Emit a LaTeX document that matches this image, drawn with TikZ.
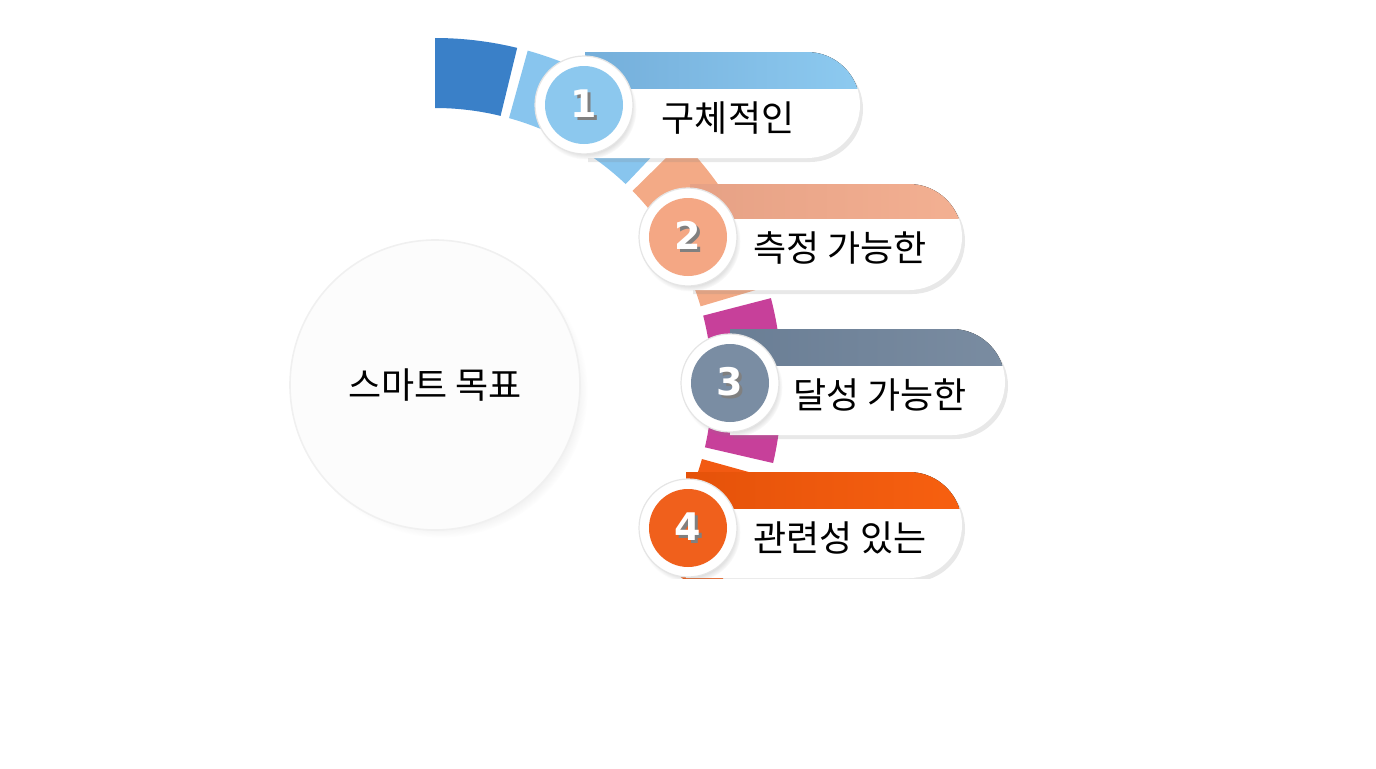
\documentclass[tikz,border=0pt]{standalone}
\usepackage{fontspec}
\setmainfont{Noto Sans CJK KR}
\newfontfamily\numfont{DejaVu Sans}
\usepackage{tikz}
\usetikzlibrary{positioning,shadows}

\definecolor{ringA}{HTML}{3A80C8}
\definecolor{ringB}{HTML}{88C5EE}
\definecolor{ringC}{HTML}{F3AA86}
\definecolor{ringD}{HTML}{C7409A}
\definecolor{ringE}{HTML}{F25A12}
\definecolor{bandAl}{HTML}{74AEDA}
\definecolor{bandAr}{HTML}{8DCAF0}
\definecolor{bandBl}{HTML}{E6A185}
\definecolor{bandBr}{HTML}{F3B092}
\definecolor{bandCl}{HTML}{6A7E95}
\definecolor{bandCr}{HTML}{7A8CA1}
\definecolor{bandDl}{HTML}{E5520A}
\definecolor{bandDr}{HTML}{F76010}
\definecolor{discA}{HTML}{8CC8EE}
\definecolor{discB}{HTML}{F4A784}
\definecolor{discC}{HTML}{7A8DA3}
\definecolor{discD}{HTML}{F0601C}

\newcommand\shnum[1]{\rlap{\hspace{1.4pt}\raisebox{-1.4pt}{\textcolor{black!50}{#1}}}#1}

\tikzset{
  numring/.style={circle, fill=white, draw=black!10, line width=0.6pt, minimum size=49pt, inner sep=0pt,
    circular drop shadow={opacity=.3, shadow xshift=1pt, shadow yshift=-2pt, shadow scale=1.03}},
  numdisc/.style={circle, minimum size=39pt, inner sep=0pt, text=white,
    font=\numfont\bfseries\fontsize{19pt}{19pt}\selectfont},
  itemtext/.style={font=\fontsize{18pt}{21pt}\selectfont, text=black},
}

\begin{document}
\begin{tikzpicture}[x=0.5pt,y=0.5pt]
    \useasboundingbox (0,0) rectangle (1376,768);
    \begin{scope}
    \clip (0,190) rectangle (1376,768);

    % centre circle
    \node[circle, minimum size=145pt, fill=black!1, draw=black!6, line width=0.8pt,
      circular drop shadow={opacity=.22, shadow xshift=3pt, shadow yshift=-3pt, shadow scale=1.01},
      font=\fontsize{18pt}{21pt}\selectfont] (goal) at (435,383) {스마트 목표};

    % ring
    \begin{scope}[shift={(435,383)}]
    \foreach \a/\b/\col in {90/76.3/ringA, 74.5/46.5/ringB, 44.5/16.5/ringC, 14.5/-13/ringD, -15.5/-38/ringE}
        \fill[\col] (\a:347) arc[start angle=\a, end angle=\b, radius=347] -- (\b:277)
            arc[start angle=\b, end angle=\a, radius=277] -- cycle;
    \end{scope}

    % pills
    \foreach \l/\t/\b/\r/\m/\ca/\cb in {585/716/610/860/680/bandAl/bandAr,
        690/584/478/962/550/bandBl/bandBr, 730/439/333/1005/403/bandCl/bandCr,
        686/296/190/962/260/bandDl/bandDr}
    {
        \path[fill=white, drop shadow={opacity=.18, shadow xshift=1.5pt, shadow yshift=-2pt}]
            (\l,\b) -- (\r-53,\b) arc[start angle=-90, end angle=90, radius=53] -- (\l,\t) -- cycle;
        \begin{scope}
        \clip (\l,\b) -- (\r-53,\b) arc[start angle=-90, end angle=90, radius=53] -- (\l,\t) -- cycle;
        \fill[left color=\ca, right color=\cb] (\l,\m) rectangle (\r,\t);
        \end{scope}
    }

    % numbers
    \node[numring] (n1) at (584,663) {};
    \node[numring] (n2) at (688,531) {};
    \node[numring] (n3) at (730,385) {};
    \node[numring] (n4) at (688,240) {};
    \node[numdisc, fill=discA] (d1) at (n1) {\shnum{1}};
    \node[numdisc, fill=discB] (d2) at (n2) {\shnum{2}};
    \node[numdisc, fill=discC] (d3) at (n3) {\shnum{3}};
    \node[numdisc, fill=discD] (d4) at (n4) {\shnum{4}};

    % labels
    \node[itemtext] (t1) at (728,650) {구체적인};
    \node[itemtext] (t2) at (840,520) {측정 가능한};
    \node[itemtext] (t3) at (880,373) {달성 가능한};
    \node[itemtext] (t4) at (840,230) {관련성 있는};
    \end{scope}
\end{tikzpicture}
\end{document}
